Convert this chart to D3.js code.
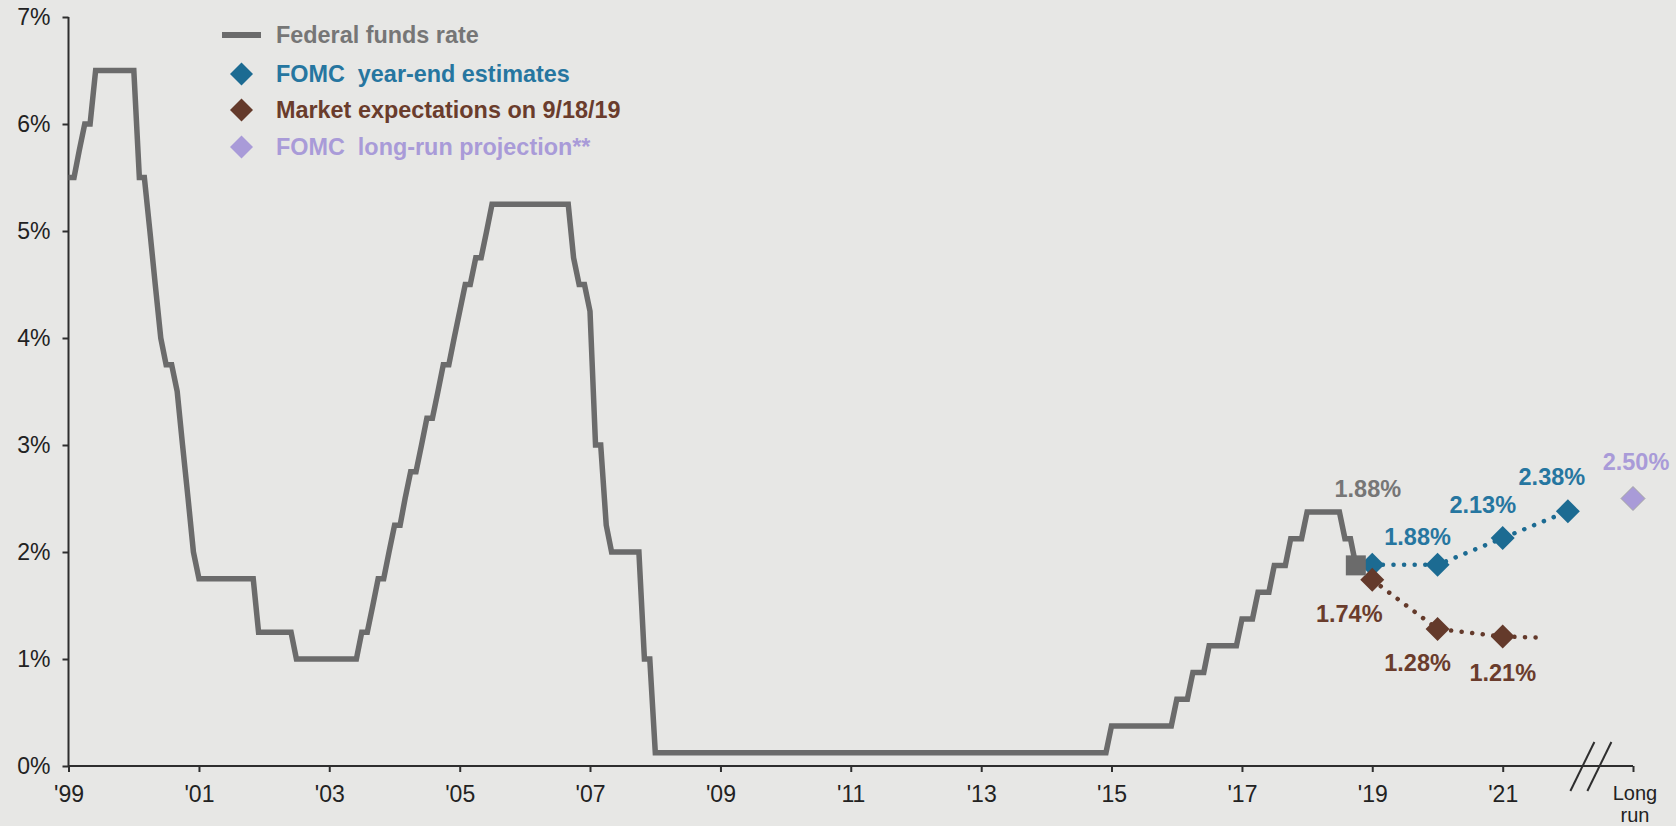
<!DOCTYPE html>
<html>
<head>
<meta charset="utf-8">
<script src="https://cdn.jsdelivr.net/npm/d3@7"></script>
<style>
  html, body { margin: 0; padding: 0; background: #e7e7e5; }
  svg { display: block; font-family: "Liberation Sans", Arial, sans-serif; }
</style>
</head>
<body>
<svg id="chart" width="1676" height="826"></svg>
<script>
// ---------- DATA ----------
// Federal funds rate (target / midpoint of target range), month-end values at each vertex of the line
const ffMonths = ["1999-12","2000-01","2000-02","2000-03","2000-04","2000-05","2000-12","2001-01","2001-02","2001-03",
  "2001-04","2001-05","2001-06","2001-07","2001-08","2001-09","2001-10","2001-11","2001-12","2002-10",
  "2002-11","2003-05","2003-06","2004-05","2004-06","2004-07","2004-08","2004-09","2004-10","2004-11",
  "2004-12","2005-01","2005-02","2005-03","2005-04","2005-05","2005-06","2005-07","2005-08","2005-09",
  "2005-10","2005-11","2005-12","2006-01","2006-02","2006-03","2006-04","2006-05","2006-06","2007-08",
  "2007-09","2007-10","2007-11","2007-12","2008-01","2008-02","2008-03","2008-04","2008-09","2008-10",
  "2008-11","2008-12","2015-11","2015-12","2016-11","2016-12","2017-02","2017-03","2017-05","2017-06",
  "2017-11","2017-12","2018-02","2018-03","2018-05","2018-06","2018-08","2018-09","2018-11","2018-12",
  "2019-06","2019-07","2019-08","2019-09"];
const ffRates = [5.50,5.50,5.75,6.00,6.00,6.50,6.50,5.50,5.50,5.00,
  4.50,4.00,3.75,3.75,3.50,3.00,2.50,2.00,1.75,1.75,
  1.25,1.25,1.00,1.00,1.25,1.25,1.50,1.75,1.75,2.00,
  2.25,2.25,2.50,2.75,2.75,3.00,3.25,3.25,3.50,3.75,
  3.75,4.00,4.25,4.50,4.50,4.75,4.75,5.00,5.25,5.25,
  4.75,4.50,4.50,4.25,3.00,3.00,2.25,2.00,2.00,1.00,
  1.00,0.125,0.125,0.375,0.375,0.625,0.625,0.875,0.875,1.125,
  1.125,1.375,1.375,1.625,1.625,1.875,1.875,2.125,2.125,2.375,
  2.375,2.125,2.125,1.875];
const ffNowLabel = "1.88%";

// FOMC year-end estimates
const fomcYears = [2019, 2020, 2021, 2022];
const fomcValues = [1.88, 1.88, 2.13, 2.38];
const fomcLabels = [null, "1.88%", "2.13%", "2.38%"];

// Market expectations on 9/18/19
const marketYears = [2019, 2020, 2021];
const marketValues = [1.74, 1.28, 1.21];
const marketLabels = ["1.74%", "1.28%", "1.21%"];
const marketTailMonth = "2022-07";
const marketTailValue = 1.20;

// FOMC long-run projection
const longRunValue = 2.50;
const longRunLabel = "2.50%";

// Axis ticks
const xTickYears = [1999, 2001, 2003, 2005, 2007, 2009, 2011, 2013, 2015, 2017, 2019, 2021];
const xTickLabels = ["'99", "'01", "'03", "'05", "'07", "'09", "'11", "'13", "'15", "'17", "'19", "'21"];
const longRunTickLines = ["Long", "run"];
const yTicks = [0, 1, 2, 3, 4, 5, 6, 7];
const yTickLabels = ["0%", "1%", "2%", "3%", "4%", "5%", "6%", "7%"];

const legendLabels = ["Federal funds rate", "FOMC  year-end estimates", "Market expectations on 9/18/19", "FOMC  long-run projection**"];

// ---------- STYLE ----------
const C = {
  ff: "#6b6b6b", ffText: "#767676",
  fomc: "#1c6b92", fomcText: "#2676a0",
  market: "#643a2b", marketText: "#6a3c2c",
  longRun: "#a99bd8",
  axis: "#2e2e2e", tick: "#222"
};

// year-end position of a year, month-end position of "YYYY-MM"
const yearEnd = y => new Date(y + 1, 0, 1);
const monthEnd = s => { const [y, m] = s.split("-").map(Number); return new Date(y, m, 1); };

const svg = d3.select("#chart");
const x = d3.scaleTime().domain([new Date(2000, 0, 1), new Date(2024, 0, 1)]).range([68.5, 1633]);
const y = d3.scaleLinear().domain([0, 7]).range([766, 17]);

// ---------- AXES ----------
const yAxis = d3.axisLeft(y).tickValues(yTicks).tickFormat((d, i) => yTickLabels[i]).tickSize(6).tickPadding(12);
const gy = svg.append("g").attr("transform", `translate(${x.range()[0]},0)`).call(yAxis);
gy.select(".domain").attr("stroke", C.axis).attr("stroke-width", 2).attr("d", `M0,${y(0)}V${y(7)}`);
gy.selectAll(".tick line").attr("stroke", C.axis).attr("stroke-width", 2);
gy.selectAll(".tick text").attr("fill", C.tick).attr("font-size", 23);

const xTickDates = xTickYears.map(yearEnd).concat([new Date(2024, 0, 1)]);
const xAxis = d3.axisBottom(x).tickValues(xTickDates)
  .tickFormat((d, i) => i < xTickLabels.length ? xTickLabels[i] : "").tickSize(6).tickPadding(14);
const gx = svg.append("g").attr("transform", `translate(0,${y(0)})`).call(xAxis);
gx.select(".domain").attr("stroke", C.axis).attr("stroke-width", 2).attr("d", `M${x.range()[0]},0H${x.range()[1]}`);
gx.selectAll(".tick line").attr("stroke", C.axis).attr("stroke-width", 2);
gx.selectAll(".tick text").attr("fill", C.tick).attr("font-size", 23);

// Long run label
const lr = svg.append("text").attr("x", x(new Date(2024, 0, 1)) + 2).attr("y", 800)
  .attr("text-anchor", "middle").attr("font-size", 20).attr("fill", C.tick);
longRunTickLines.forEach((t, i) => lr.append("tspan").attr("x", x(new Date(2024, 0, 1)) + 2).attr("dy", i ? 22 : 0).text(t));

// axis break marks
const bx = x(new Date(2023, 4, 10));
[-8.5, 8.5].forEach(off => {
  svg.append("line").attr("x1", bx + off - 12).attr("y1", 791).attr("x2", bx + off + 12).attr("y2", 742)
    .attr("stroke", C.axis).attr("stroke-width", 2);
});

// ---------- SERIES ----------
function diamondPath(cx, cy, r) { return `M${cx},${cy - r}L${cx + r},${cy}L${cx},${cy + r}L${cx - r},${cy}Z`; }

// dotted lines
const dotted = (pts, color) => svg.append("path")
  .attr("d", d3.line().x(d => d[0]).y(d => d[1])(pts))
  .attr("fill", "none").attr("stroke", color).attr("stroke-width", 4.5)
  .attr("stroke-linecap", "round").attr("stroke-dasharray", "0.1 10.5");

const fomcPts = fomcYears.map((yr, i) => [x(yearEnd(yr)), y(fomcValues[i])]);
const marketPts = marketYears.map((yr, i) => [x(yearEnd(yr)), y(marketValues[i])]);
dotted(fomcPts, C.fomc);
dotted(marketPts.concat([[x(monthEnd(marketTailMonth)), y(marketTailValue)]]), C.market);

// Fed funds line
const ffPts = ffMonths.map((m, i) => [x(monthEnd(m)), y(ffRates[i])]);
svg.append("path").attr("d", d3.line()(ffPts)).attr("fill", "none")
  .attr("stroke", C.ff).attr("stroke-width", 5.5).attr("stroke-linejoin", "miter");

// markers
const R = 12;
fomcPts.forEach(p => svg.append("path").attr("d", diamondPath(p[0], p[1], R)).attr("fill", C.fomc));
marketPts.forEach(p => svg.append("path").attr("d", diamondPath(p[0], p[1], R)).attr("fill", C.market));
const lrPt = [x(new Date(2024, 0, 1)), y(longRunValue)];
svg.append("path").attr("d", diamondPath(lrPt[0], lrPt[1], R)).attr("fill", C.longRun)
  .attr("stroke", "#a4a4a4").attr("stroke-width", 1);

// current fed funds square
const last = ffPts[ffPts.length - 1];
svg.append("rect").attr("x", last[0] - 10).attr("y", last[1] - 10).attr("width", 20).attr("height", 20).attr("fill", C.ff);

// ---------- DATA LABELS ----------
const lab = (px, py, t, color) => svg.append("text").attr("x", px).attr("y", py).attr("text-anchor", "middle")
  .attr("font-size", 23.5).attr("font-weight", "bold").attr("fill", color).text(t);

lab(last[0] + 12, last[1] - 68, ffNowLabel, C.ffText);
const fomcOff = [null, [-20, -20], [-20, -25], [-16, -26]];
fomcPts.forEach((p, i) => { if (fomcLabels[i]) lab(p[0] + fomcOff[i][0], p[1] + fomcOff[i][1], fomcLabels[i], C.fomcText); });
const marketOff = [[-23, 42], [-20, 42], [0, 44]];
marketPts.forEach((p, i) => lab(p[0] + marketOff[i][0], p[1] + marketOff[i][1], marketLabels[i], C.marketText));
lab(lrPt[0] + 3, lrPt[1] - 29, longRunLabel, C.longRun);

// ---------- LEGEND ----------
const legendRowsY = [35, 74, 110, 147];
const legendColors = [C.ffText, C.fomcText, C.marketText, C.longRun];
const legendMarkColors = [C.ff, C.fomc, C.market, C.longRun];
const lg = svg.append("g");
legendLabels.forEach((t, i) => {
  const cy = legendRowsY[i];
  if (i === 0) {
    lg.append("line").attr("x1", 222).attr("x2", 261).attr("y1", cy).attr("y2", cy)
      .attr("stroke", legendMarkColors[i]).attr("stroke-width", 6);
  } else {
    lg.append("path").attr("d", diamondPath(241.5, cy, 11.5)).attr("fill", legendMarkColors[i]);
  }
  lg.append("text").attr("x", 276).attr("y", cy).attr("dy", "0.36em").attr("font-size", 23.4)
    .attr("font-weight", "bold").attr("fill", legendColors[i]).attr("xml:space", "preserve")
    .style("white-space", "pre").text(t);
});
</script>
</body>
</html>
